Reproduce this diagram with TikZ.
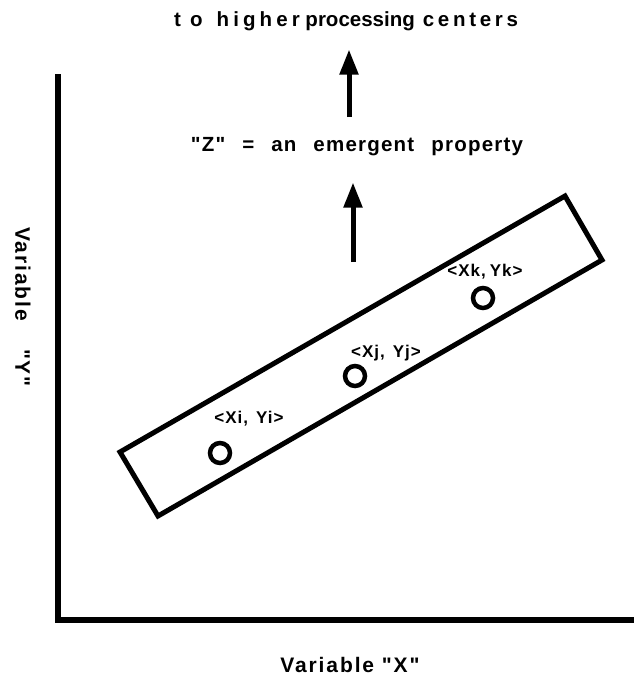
\documentclass[tikz,border=0pt]{standalone}
\usepackage{fontspec}
\newfontfamily\diagfont{Liberation Sans}
\usetikzlibrary{arrows.meta}

\begin{document}
\begin{tikzpicture}[x=1pt, y=-1pt,
  axis/.style={line width=6pt},
  band/.style={line width=5pt, line join=miter},
  datum/.style={draw, circle, line width=4.5pt, minimum size=20pt, inner sep=0pt},
  ptlabel/.style={font=\diagfont\fontsize{17}{19}\selectfont\bfseries\addfontfeature{LetterSpace=6}, inner sep=0pt, anchor=base},
  caption/.style={font=\diagfont\fontsize{20.5}{24}\selectfont\bfseries, inner sep=0pt, anchor=base},
  uparrow/.style={-{Triangle[length=25pt,width=18pt]}, line width=5pt},
]
  \useasboundingbox (0,0) rectangle (634,677);

  % axes
  \draw[axis] (58,74) -- (58,620) -- (634,620);

  % titles
  \node[caption] (centers) at (346,27)
    {{\addfontfeature{LetterSpace=45}to}\hspace{14pt}{\addfontfeature{LetterSpace=20}higher} processing\hspace{8pt}{\addfontfeature{LetterSpace=18}centers}};
  \node[caption] (emergent) at (357,151)
    {{\addfontfeature{LetterSpace=6}"Z"\hspace{17pt}=\hspace{17pt}an\hspace{17pt}emergent\hspace{17pt}property}};
  \node[caption, font=\diagfont\fontsize{21}{24}\selectfont\bfseries\addfontfeature{LetterSpace=9}] (xlabel) at (350,672) {Variable "X"};
  \node[font=\diagfont\fontsize{21}{24}\selectfont\bfseries\addfontfeature{LetterSpace=9}, inner sep=0pt, rotate=-90] (ylabel) at (23,307) {Variable\hspace{28pt}"Y"};

  % band of correlated points
  \draw[band] (120,452) -- (158,516) -- (602,260) -- (565,196) -- cycle;

  \node[datum] (pi) at (220,453) {};
  \node[datum] (pj) at (355,376) {};
  \node[datum] (pk) at (483,298) {};

  \node[ptlabel] (li) at (249,423) {<Xi,\hspace{8pt}Yi>};
  \node[ptlabel] (lj) at (386,357) {<Xj,\hspace{8pt}Yj>};
  \node[ptlabel] (lk) at (485,276) {<Xk,\hspace{4pt}Yk>};

  % arrows
  \coordinate (lowtail) at (353,262);
  \coordinate (uptail) at (349,117);
  \draw[uparrow] (lowtail) -- (lowtail |- emergent.south) [shorten >=27pt];
  \draw[uparrow] (uptail) -- (uptail |- centers.south) [shorten >=18pt];
\end{tikzpicture}
\end{document}
